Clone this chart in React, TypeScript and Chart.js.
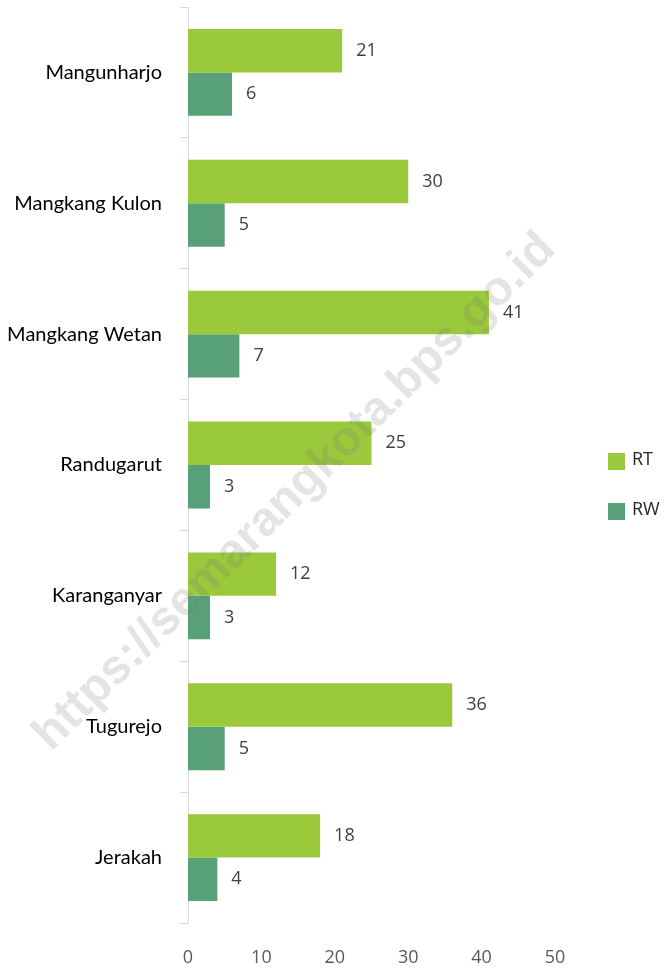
import React, { useEffect, useRef } from "react";
import { Chart, registerables } from "chart.js";

Chart.register(...registerables);

const categories = ["Mangunharjo", "Mangkang Kulon", "Mangkang Wetan", "Randugarut", "Karanganyar", "Tugurejo", "Jerakah"];
const rtValues = [21, 30, 41, 25, 12, 36, 18];
const rwValues = [6, 5, 7, 3, 3, 5, 4];
const seriesNames = ["RT", "RW"];
const seriesColors = ["#9BC93C", "#58A077"];
const watermarkText = "https://semarangkota.bps.go.id";

const valueLabels = {
  id: "valueLabels",
  afterDatasetsDraw(chart: any) {
    const ctx = chart.ctx;
    ctx.save();
    ctx.font = "18px 'Open Sans'";
    ctx.fillStyle = "#404040";
    ctx.textAlign = "left";
    ctx.textBaseline = "middle";
    chart.data.datasets.forEach((ds: any, i: number) => {
      const meta = chart.getDatasetMeta(i);
      meta.data.forEach((bar: any, j: number) => {
        ctx.fillText(String(ds.data[j]), bar.x + 14, bar.y);
      });
    });
    ctx.restore();
  },
};

const customLegend = {
  id: "customLegend",
  afterDraw(chart: any) {
    const ctx = chart.ctx;
    const area = chart.chartArea;
    const cx = area.right + 53;
    const cy = (area.top + area.bottom) / 2;
    ctx.save();
    ctx.font = "18px 'Open Sans'";
    ctx.textBaseline = "middle";
    ctx.textAlign = "left";
    chart.data.datasets.forEach((ds: any, i: number) => {
      const y = cy - 3.5 + i * 50;
      ctx.fillStyle = ds.backgroundColor;
      ctx.fillRect(cx, y - 8.5, 17, 17);
      ctx.fillStyle = "#262626";
      ctx.fillText(ds.label, cx + 24, y - 2);
    });
    ctx.restore();
  },
};

const watermark = {
  id: "watermark",
  afterDraw(chart: any) {
    const ctx = chart.ctx;
    ctx.save();
    ctx.translate(295, 492);
    ctx.rotate(-Math.PI / 4 + 0.005);
    ctx.font = "bold 48px 'Liberation Sans'";
    ctx.fillStyle = "rgba(120,120,120,0.2)";
    ctx.textAlign = "center";
    ctx.textBaseline = "middle";
    ctx.fillText(watermarkText, 0, 0);
    ctx.restore();
  },
};

export default function App() {
  const ref = useRef<HTMLCanvasElement>(null);
  useEffect(() => {
    document.body.style.margin = "0";
    const chart = new Chart(ref.current!, {
      type: "bar",
      data: {
        labels: categories,
        datasets: [
          { label: seriesNames[0], data: rtValues, backgroundColor: seriesColors[0] },
          { label: seriesNames[1], data: rwValues, backgroundColor: seriesColors[1] },
        ],
      },
      options: {
        indexAxis: "y",
        animation: false,
        responsive: false,
        maintainAspectRatio: false,
        layout: { padding: { top: 7, right: 111, bottom: 0, left: 0 } },
        datasets: { bar: { categoryPercentage: 0.664, barPercentage: 1 } },
        plugins: { legend: { display: false }, tooltip: { enabled: false } },
        scales: {
          x: {
            min: 0,
            max: 50,
            afterFit(scale: any) {
              scale.height = 46;
              scale.paddingLeft = 0;
              scale.paddingRight = 0;
            },
            ticks: { stepSize: 10, padding: 24, color: "#595959", font: { family: "'Open Sans'", size: 18 } },
            grid: { display: false, drawTicks: false },
            border: { display: false },
          },
          y: {
            afterFit(scale: any) {
              scale.width = 188;
              scale.paddingTop = 0;
              scale.paddingBottom = 0;
            },
            ticks: { padding: 18, color: "#000000", font: { family: "Lato", size: 20 } },
            grid: { offset: true, drawOnChartArea: false, tickLength: 8, color: "#D9D9D9", lineWidth: 1 },
            border: { display: true, color: "#D9D9D9", width: 1 },
          },
        },
      },
      plugins: [valueLabels, watermark, customLegend],
    });
    return () => chart.destroy();
  }, []);
  return (
    <div style={{ width: 666, height: 969 }}>
      <canvas ref={ref} width={666} height={969} style={{ display: "block" }} />
    </div>
  );
}
